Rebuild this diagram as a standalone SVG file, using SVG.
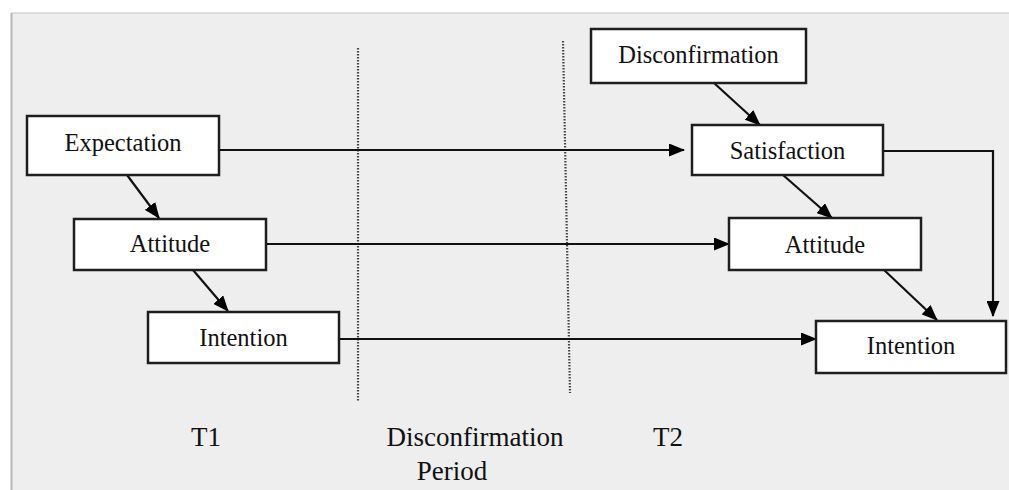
<svg xmlns="http://www.w3.org/2000/svg" width="1009" height="490" viewBox="0 0 1009 490">
<style>
.box{fill:#fff;stroke:#1e1e1e;stroke-width:2.5}
.lbl{font-family:"Liberation Serif","Times New Roman",serif;font-size:24.5px;fill:#111;text-anchor:middle}
.axis{font-family:"Liberation Serif","Times New Roman",serif;font-size:27px;fill:#111;text-anchor:middle}
.conn{fill:none;stroke:#111;stroke-width:2.2}
.dot{fill:none;stroke:#444;stroke-width:2.2;stroke-dasharray:1.5 1.5}
</style>
<defs>
<marker id="ah" viewBox="0 0 16 13" refX="15" refY="6.5" markerWidth="16" markerHeight="13" markerUnits="userSpaceOnUse" orient="auto">
<path d="M0,0 L16,6.5 L0,13 z" fill="#000"/>
</marker>
</defs>
<rect x="0" y="0" width="1009" height="490" fill="#fff"/>
<rect x="11" y="13" width="1000" height="480" fill="#eeeeee"/>
<line x1="11" y1="13" x2="1009" y2="13" stroke="#d6d6d6" stroke-width="1.5"/>
<line x1="11.5" y1="13" x2="11.5" y2="490" stroke="#b8b8b8" stroke-width="2"/>

<g id="dividers">
<line class="dot" x1="358" y1="48" x2="358" y2="402"/>
<line class="dot" x1="563" y1="41" x2="570" y2="393"/>
</g>

<g id="connectors">
<line class="conn" x1="219" y1="150" x2="684" y2="150" marker-end="url(#ah)"/>
<line class="conn" x1="714" y1="83" x2="760" y2="125" marker-end="url(#ah)"/>
<line class="conn" x1="127" y1="175" x2="159" y2="218" marker-end="url(#ah)"/>
<line class="conn" x1="266" y1="244" x2="729" y2="244" marker-end="url(#ah)"/>
<line class="conn" x1="193" y1="270" x2="228" y2="311" marker-end="url(#ah)"/>
<line class="conn" x1="339" y1="339" x2="816" y2="339" marker-end="url(#ah)"/>
<line class="conn" x1="783" y1="175" x2="832" y2="218" marker-end="url(#ah)"/>
<line class="conn" x1="883" y1="269" x2="937" y2="320" marker-end="url(#ah)"/>
<polyline class="conn" points="883,151 993,151 993,316" marker-end="url(#ah)"/>
</g>

<g id="expectation">
<rect class="box" x="27" y="116" width="192" height="59"/>
<text class="lbl" x="123" y="151">Expectation</text>
</g>
<g id="attitude-t1">
<rect class="box" x="74" y="219" width="192" height="51"/>
<text class="lbl" x="170" y="252">Attitude</text>
</g>
<g id="intention-t1">
<rect class="box" x="148" y="312" width="191" height="51"/>
<text class="lbl" x="243.5" y="346">Intention</text>
</g>
<g id="disconfirmation">
<rect class="box" x="591" y="29" width="215" height="54"/>
<text class="lbl" x="698.5" y="63">Disconfirmation</text>
</g>
<g id="satisfaction">
<rect class="box" x="692" y="125" width="191" height="50"/>
<text class="lbl" x="787.5" y="159">Satisfaction</text>
</g>
<g id="attitude-t2">
<rect class="box" x="729" y="218" width="192" height="52"/>
<text class="lbl" x="825" y="253">Attitude</text>
</g>
<g id="intention-t2">
<rect class="box" x="816" y="321" width="190" height="52"/>
<text class="lbl" x="911" y="354">Intention</text>
</g>

<g id="labels">
<text class="axis" x="206" y="446">T1</text>
<text class="axis" x="475" y="446">Disconfirmation</text>
<text class="axis" x="452" y="480">Period</text>
<text class="axis" x="668" y="446">T2</text>
</g>
</svg>
